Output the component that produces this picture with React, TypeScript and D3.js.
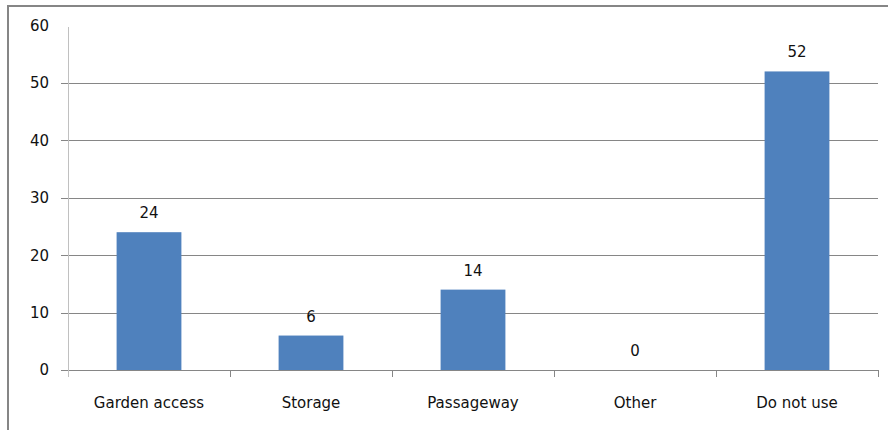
import * as d3 from "d3";

const categories = ["Garden access", "Storage", "Passageway", "Other", "Do not use"];
const values = [24, 6, 14, 0, 52];
const yTicks = [0, 10, 20, 30, 40, 50, 60];

const W = 888;
const H = 430;
const margin = { left: 68, right: 10, top: 25.5, bottom: 60 };

export default function App() {
    const x = d3
        .scaleBand<string>()
        .domain(categories)
        .range([margin.left, W - margin.right])
        .paddingInner(0.6)
        .paddingOuter(0.3);
    const step = x.step();
    const y = d3
        .scaleLinear()
        .domain([0, 60])
        .range([H - margin.bottom, margin.top]);

    const font = "'DejaVu Sans', Verdana, sans-serif";
    const xEnd = W - margin.right;
    const bandEdges = d3.range(categories.length + 1).map((i) => margin.left + i * step);

    return (
        <svg
            width={W}
            height={H}
            style={{ position: "absolute", left: 0, top: 0, background: "#fff" }}
            fontFamily={font}
        >
            {/* frame */}
            <rect x={8} y={6} width={W + 20} height={H + 20} fill="none" stroke="#868686" strokeWidth={2} />

            {/* grid lines */}
            {yTicks.map((t) =>
                t === 60 ? null : (
                    <line
                        key={t}
                        x1={margin.left - 7}
                        x2={xEnd}
                        y1={Math.round(y(t)) + 0.5}
                        y2={Math.round(y(t)) + 0.5}
                        stroke="#868686"
                        strokeWidth={1}
                    />
                )
            )}

            {/* y axis */}
            <line
                x1={margin.left + 0.5}
                x2={margin.left + 0.5}
                y1={27}
                y2={y(0) + 7}
                stroke="#c0c0c0"
                strokeWidth={1}
            />
            {yTicks.map((t) => (
                <text
                    key={t}
                    x={margin.left - 19}
                    y={y(t)}
                    dy="0.36em"
                    textAnchor="end"
                    fontSize={15}
                    fill="#111"
                >
                    {t}
                </text>
            ))}

            {/* category tick marks */}
            {bandEdges.slice(1).map((e, i) => (
                <line
                    key={i}
                    x1={Math.round(e) + 0.5}
                    x2={Math.round(e) + 0.5}
                    y1={y(0)}
                    y2={y(0) + 7}
                    stroke="#868686"
                />
            ))}

            {/* bars */}
            {categories.map((c, i) => (
                <rect
                    key={c}
                    x={x(c)}
                    y={y(values[i])}
                    width={x.bandwidth()}
                    height={y(0) - y(values[i])}
                    fill="#4f81bd"
                />
            ))}

            {/* value labels */}
            {categories.map((c, i) => (
                <text
                    key={c}
                    x={(x(c) ?? 0) + x.bandwidth() / 2}
                    y={y(values[i]) - 14}
                    textAnchor="middle"
                    fontSize={15}
                    fill="#111"
                >
                    {values[i]}
                </text>
            ))}

            {/* category labels */}
            {categories.map((c) => (
                <text
                    key={c}
                    x={(x(c) ?? 0) + x.bandwidth() / 2}
                    y={y(0) + 37.5}
                    textAnchor="middle"
                    fontSize={15}
                    fill="#111"
                >
                    {c}
                </text>
            ))}
        </svg>
    );
}
